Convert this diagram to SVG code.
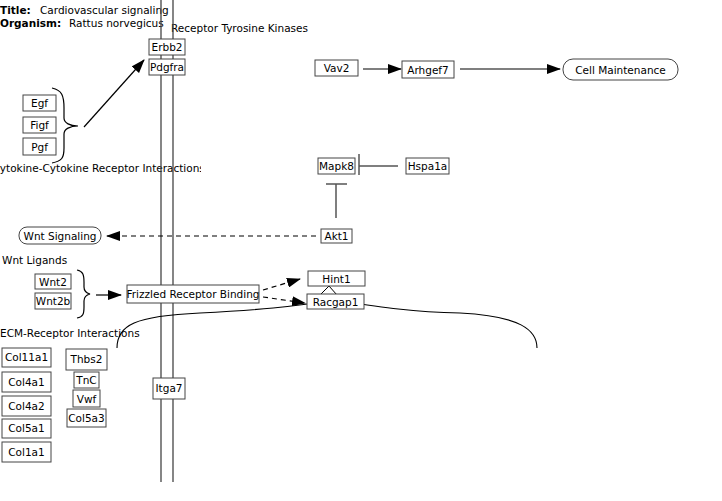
<svg xmlns="http://www.w3.org/2000/svg" width="722" height="501" viewBox="0 0 722 501">
<style>
text{font-family:"DejaVu Sans","Liberation Sans",sans-serif;font-size:10.5px;fill:#000}
.b{font-weight:bold}
.n rect{fill:#fff;stroke:#444;stroke-width:1}
.n text{text-anchor:middle}
.c{fill:none;stroke:#000;stroke-width:1.2}
.d{stroke-dasharray:5,4}
.t{fill:none;stroke:#555;stroke-width:1.5}
.mem{stroke:#444;stroke-width:1.3}
</style>
<defs>
<marker id="a" markerWidth="14" markerHeight="10" refX="13" refY="5" orient="auto" markerUnits="userSpaceOnUse"><path d="M0,0 L14,5 L0,10 z" fill="#000"/></marker>
<clipPath id="cl"><rect x="0" y="155" width="201" height="25"/></clipPath>
</defs>
<g id="labels">
<text x="0" y="14" class="b">Title:</text><text x="40" y="14">Cardiovascular signaling</text>
<text x="0" y="27" class="b">Organism:</text><text x="69" y="27">Rattus norvegicus</text>
<text x="171" y="32">Receptor Tyrosine Kinases</text>
<text x="-7.5" y="172" clip-path="url(#cl)">Cytokine-Cytokine Receptor Interactions</text>
<text x="2" y="264">Wnt Ligands</text>
<text x="0" y="337">ECM-Receptor Interactions</text>
</g>
<g id="membrane">
<line class="mem" x1="161" y1="0" x2="161" y2="482"/>
<line class="mem" x1="173" y1="0" x2="173" y2="482"/>
</g>
<g id="connectors">
<path class="c" d="M52,88 C62,90 64,96 64,108 L64,118 C64,123 70,126 78,126 C70,126 64,129 64,134 L64,148 C64,158 62,161 52,163"/>
<path class="c" d="M77,270 C83,271 84,275 84,282 L84,287 C84,291 86,293 90,294 C86,295 84,297 84,301 L84,307 C84,314 83,317 77,318"/>
<line class="c" x1="84" y1="127" x2="144" y2="60" marker-end="url(#a)"/>
<line class="c" x1="363" y1="69" x2="401" y2="69" marker-end="url(#a)"/>
<line class="c" x1="460" y1="69" x2="560" y2="69" marker-end="url(#a)"/>
<line class="t" x1="398" y1="166" x2="359" y2="166"/>
<line class="t" x1="359" y1="154" x2="359" y2="175" stroke-width="2.5"/>
<line class="t" x1="336" y1="218" x2="336" y2="184"/>
<line class="t" x1="326" y1="184" x2="347" y2="184" stroke-width="2.5"/>
<line class="c d" x1="316" y1="236" x2="107" y2="236" marker-end="url(#a)"/>
<line class="c" x1="96" y1="295" x2="121" y2="295" marker-end="url(#a)"/>
<line class="c d" x1="263" y1="290" x2="300" y2="279" marker-end="url(#a)"/>
<line class="c d" x1="263" y1="297" x2="305" y2="303" marker-end="url(#a)"/>
<polyline fill="none" stroke="#000" stroke-width="1" points="320,295 329,286 337,295"/>
<path fill="none" stroke="#000" stroke-width="1.1" d="M117,348 C117,325 135,316 200,313 C260,310 290,307 335,300 C380,307 410,312 460,313 C520,316 537,330 537,348"/>
</g>
<g id="Erbb2" class="n"><rect x="149" y="39" width="36" height="16"/><text x="167" y="51">Erbb2</text></g>
<g id="Pdgfra" class="n"><rect x="149" y="59" width="36" height="16"/><text x="167" y="71">Pdgfra</text></g>
<g id="Egf" class="n"><rect x="23" y="95" width="33" height="16"/><text x="39.5" y="107">Egf</text></g>
<g id="Figf" class="n"><rect x="23" y="117" width="33" height="16"/><text x="39.5" y="129">Figf</text></g>
<g id="Pgf" class="n"><rect x="23" y="138" width="33" height="17"/><text x="39.5" y="151">Pgf</text></g>
<g id="Vav2" class="n"><rect x="315" y="60" width="43" height="16"/><text x="336.5" y="72">Vav2</text></g>
<g id="Arhgef7" class="n"><rect x="402" y="61" width="52" height="17"/><text x="428" y="73.5">Arhgef7</text></g>
<g id="CellMaintenance" class="n"><rect x="563" y="59" width="115" height="21" rx="10"/><text x="620.5" y="73.5">Cell Maintenance</text></g>
<g id="Mapk8" class="n"><rect x="318" y="158" width="37" height="16"/><text x="336.5" y="170">Mapk8</text></g>
<g id="Hspa1a" class="n"><rect x="406" y="158" width="43" height="16"/><text x="427.5" y="170">Hspa1a</text></g>
<g id="Akt1" class="n"><rect x="321" y="229" width="31" height="14"/><text x="336.5" y="240">Akt1</text></g>
<g id="WntSignaling" class="n"><rect x="19" y="227" width="82" height="17" rx="8"/><text x="60" y="239.5">Wnt Signaling</text></g>
<g id="Wnt2" class="n"><rect x="35" y="274" width="36" height="15"/><text x="53" y="285.5">Wnt2</text></g>
<g id="Wnt2b" class="n"><rect x="35" y="293" width="36" height="16"/><text x="53" y="305">Wnt2b</text></g>
<g id="FrizzledReceptorBinding" class="n"><rect x="127" y="285" width="132" height="18"/><text x="193" y="298">Frizzled Receptor Binding</text></g>
<g id="Hint1" class="n"><rect x="308" y="271" width="57" height="15"/><text x="336.5" y="282.5">Hint1</text></g>
<g id="Racgap1" class="n"><rect x="307" y="294" width="57" height="15"/><text x="335.5" y="305.5">Racgap1</text></g>
<g id="Col11a1" class="n"><rect x="2" y="348" width="49" height="19"/><text x="26.5" y="361">Col11a1</text></g>
<g id="Col4a1" class="n"><rect x="2" y="372" width="49" height="20"/><text x="26.5" y="385.5">Col4a1</text></g>
<g id="Col4a2" class="n"><rect x="2" y="396" width="49" height="20"/><text x="26.5" y="409.5">Col4a2</text></g>
<g id="Col5a1" class="n"><rect x="2" y="419" width="49" height="19"/><text x="26.5" y="432">Col5a1</text></g>
<g id="Col1a1" class="n"><rect x="2" y="442" width="49" height="20"/><text x="26.5" y="455.5">Col1a1</text></g>
<g id="Thbs2" class="n"><rect x="66" y="349" width="41" height="21"/><text x="86.5" y="363">Thbs2</text></g>
<g id="TnC" class="n"><rect x="74" y="372" width="25" height="16"/><text x="86.5" y="384">TnC</text></g>
<g id="Vwf" class="n"><rect x="73" y="390" width="27" height="17"/><text x="86.5" y="402.5">Vwf</text></g>
<g id="Col5a3" class="n"><rect x="67" y="409" width="39" height="18"/><text x="86.5" y="422">Col5a3</text></g>
<g id="Itga7" class="n"><rect x="153" y="378" width="32" height="21"/><text x="169" y="392">Itga7</text></g>
</svg>
